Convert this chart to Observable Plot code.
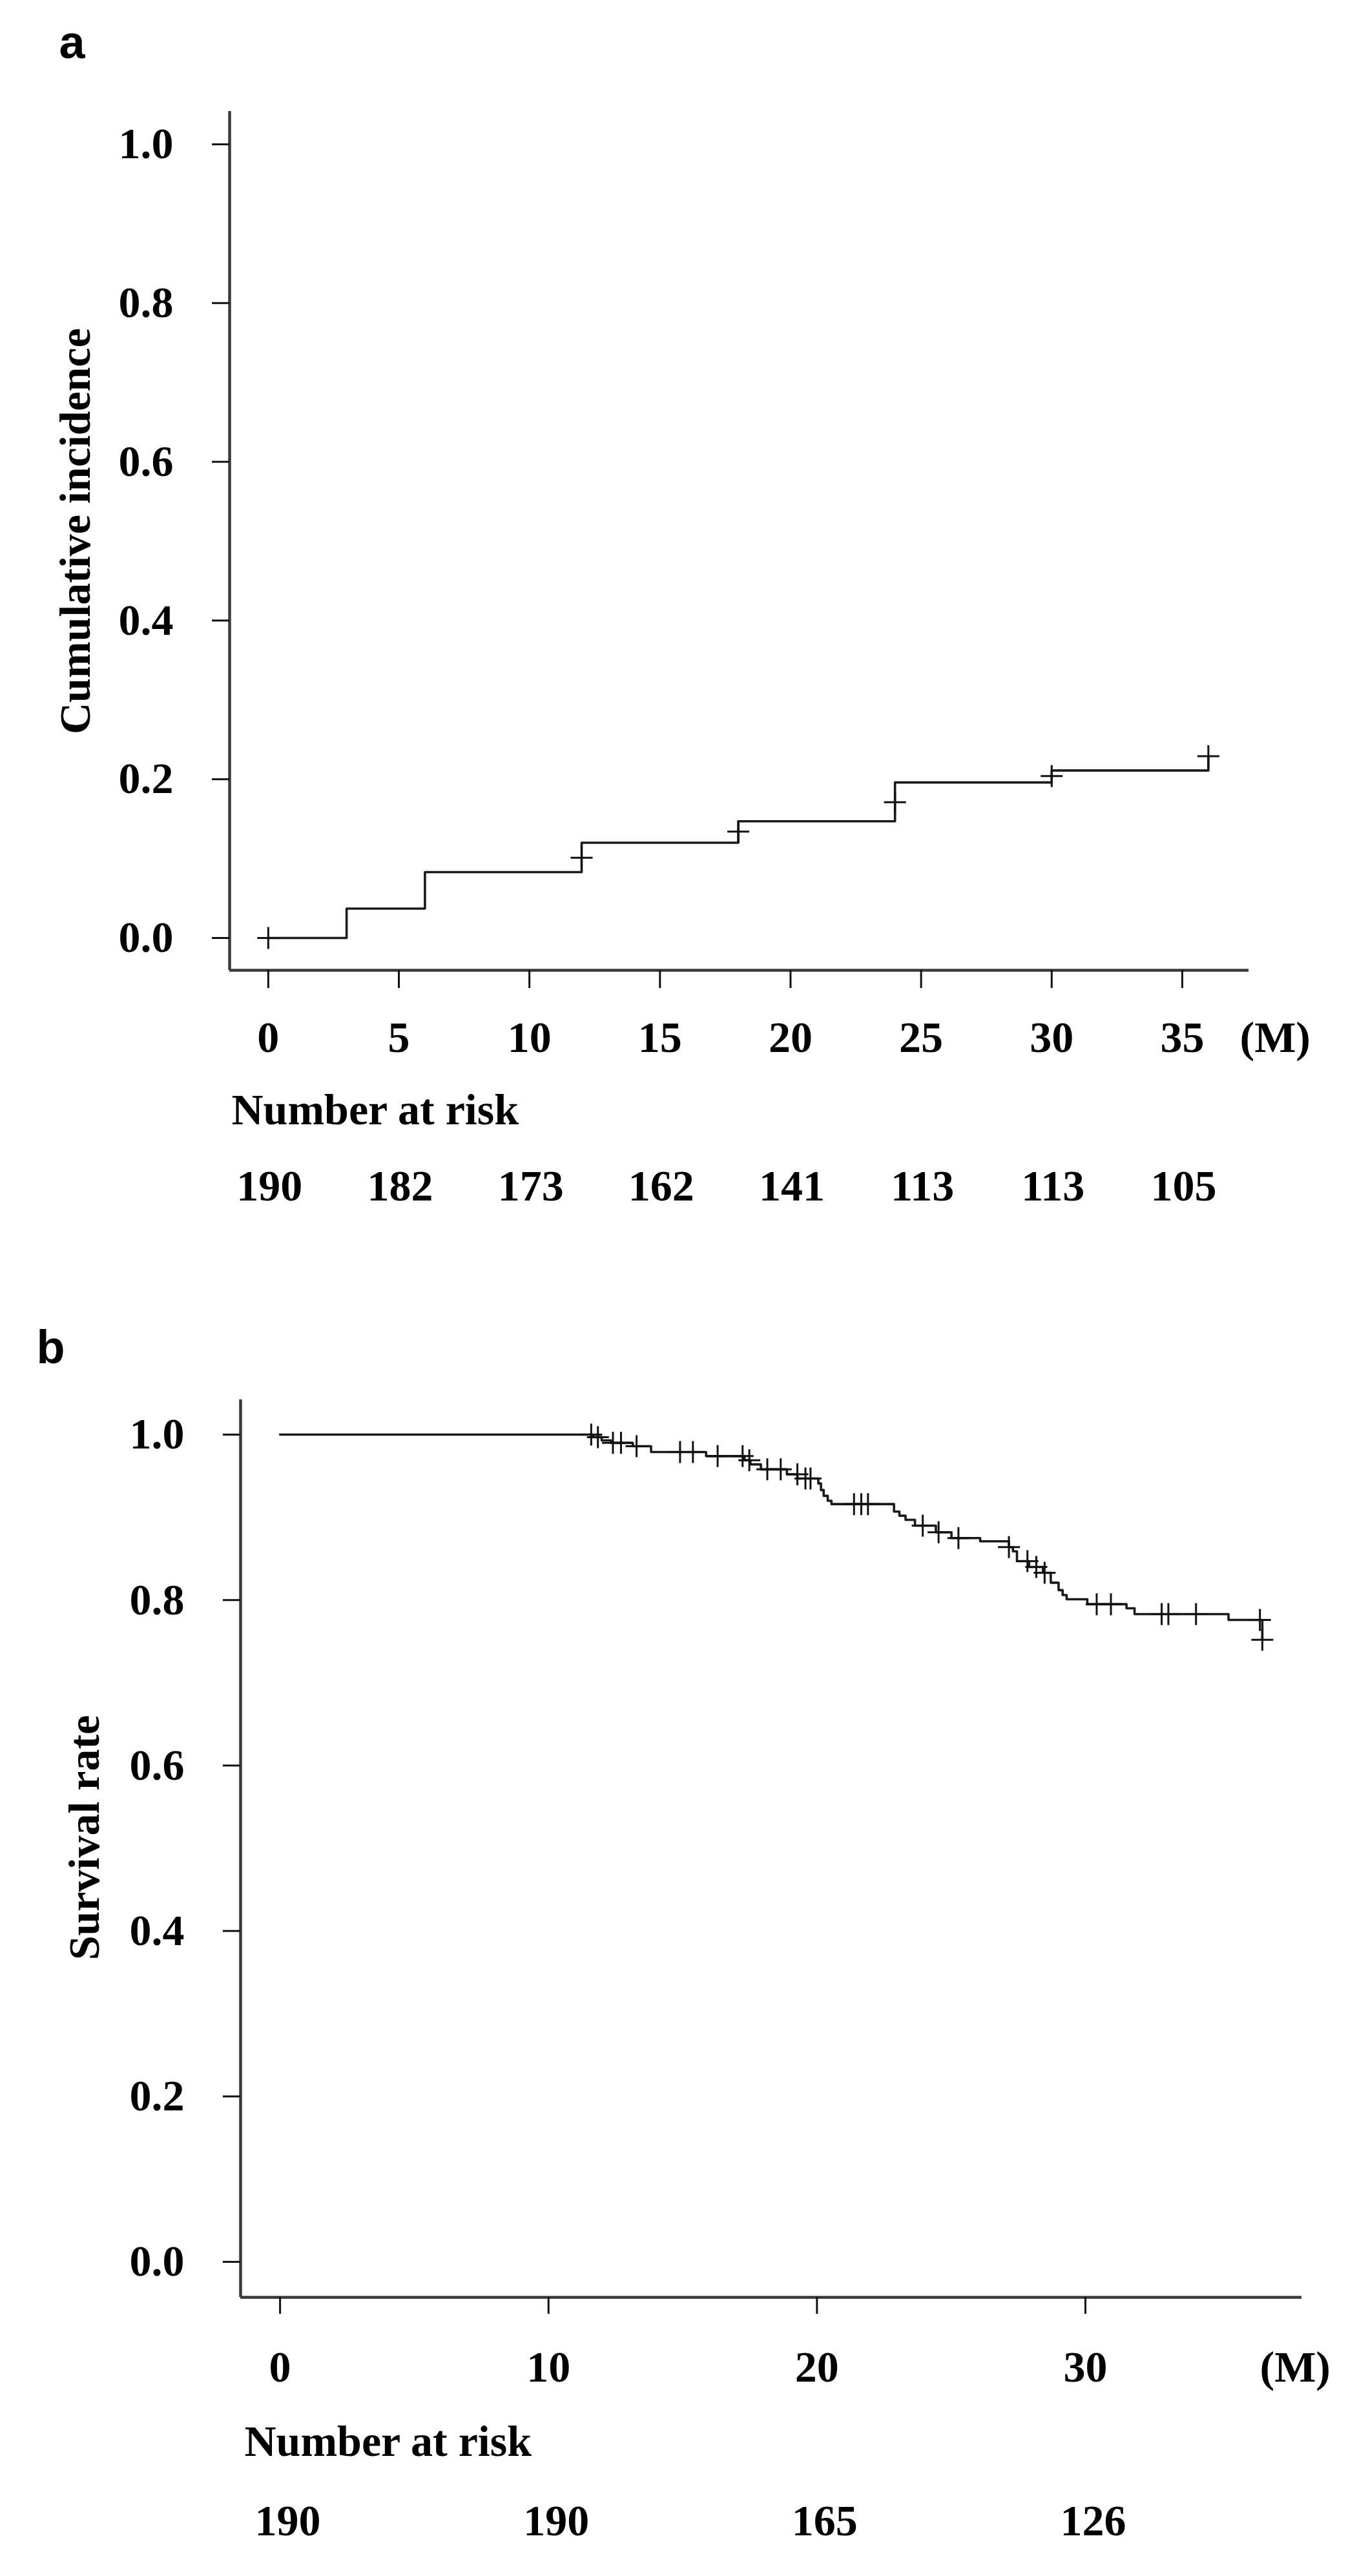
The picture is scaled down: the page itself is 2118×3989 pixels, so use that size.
<!DOCTYPE html>
<html>
<head>
<meta charset="utf-8">
<script src="https://cdn.jsdelivr.net/npm/d3@7"></script>
<script src="https://cdn.jsdelivr.net/npm/@observablehq/plot@0.6"></script>
<style>
  body { margin: 0; background: #fff; }
  #chart svg { display: block; }
</style>
</head>
<body>
<div id="chart"></div>
<script>
// ---------- Panel a: cumulative incidence ----------
const monthsA = [0, 3, 6, 12, 18, 24, 30, 36];
const incidenceA = [0, 0.037, 0.083, 0.120, 0.147, 0.196, 0.211, 0.229];
const censorMonthsA = [0, 12, 18, 24, 30, 36];
const censorIncidenceA = [0, 0.101, 0.134, 0.171, 0.204, 0.229];
const xTicksA = [0, 5, 10, 15, 20, 25, 30, 35];
const riskA = [190, 182, 173, 162, 141, 113, 113, 105];

// ---------- Panel b: survival rate ----------
const monthsB = [0, 11.65, 11.98, 12.33, 13.14, 13.82, 15.87, 17.30, 17.52, 17.91,
  18.88, 19.27, 20.05, 20.15, 20.25, 20.40, 20.54, 22.87, 23.07, 23.30,
  23.65, 24.43, 25.01, 26.08, 27.15, 27.30, 27.45, 27.90, 28.42, 28.71,
  29.00, 29.15, 29.30, 30.07, 31.53, 31.83, 35.33, 36.59];
const survivalB = [1.000, 0.997, 0.993, 0.990, 0.986, 0.979, 0.974, 0.969, 0.964, 0.958,
  0.952, 0.947, 0.941, 0.933, 0.926, 0.920, 0.916, 0.907, 0.902, 0.897,
  0.890, 0.882, 0.875, 0.871, 0.864, 0.859, 0.847, 0.840, 0.833, 0.821,
  0.812, 0.806, 0.801, 0.795, 0.790, 0.783, 0.776, 0.752];
const censorMonthsB = [11.59, 11.84, 12.40, 12.70, 13.28, 14.90, 15.38, 16.30, 17.23, 17.48,
  18.15, 18.65, 19.27, 19.57, 19.76, 21.38, 21.65, 21.90, 23.94, 24.53,
  25.27, 27.15, 27.84, 28.17, 28.48, 30.42, 30.95, 32.84, 33.09, 34.12,
  36.50, 36.59];
const censorSurvivalB = [1.000, 0.997, 0.990, 0.990, 0.986, 0.979, 0.979, 0.974, 0.974, 0.969,
  0.958, 0.958, 0.952, 0.947, 0.947, 0.916, 0.916, 0.916, 0.890, 0.882,
  0.875, 0.864, 0.847, 0.840, 0.833, 0.795, 0.795, 0.783, 0.783, 0.783,
  0.776, 0.752];
const xTicksB = [0, 10, 20, 30];
const riskB = [190, 190, 165, 126];

const yTicks = [0, 0.2, 0.4, 0.6, 0.8, 1.0];

// "+" censor symbol drawn with strokes; half-length equals r
const plusSymbol = {
  draw(ctx, size) {
    const r = Math.sqrt(size / Math.PI);
    ctx.moveTo(-r, 0); ctx.lineTo(r, 0);
    ctx.moveTo(0, -r); ctx.lineTo(0, r);
  }
};

const serif = "'Liberation Serif', 'Times New Roman', Times, serif";
const sans = "'Liberation Sans', Arial, Helvetica, sans-serif";

function panel(cfg) {
  const curve = cfg.months.map((t, i) => ({t, v: cfg.values[i]}));
  const marks = cfg.censorMonths.map((t, i) => ({t, v: cfg.censorValues[i]}));
  const risk = cfg.xTicks.map((t, i) => ({t, n: cfg.risk[i]}));
  return Plot.plot({
    width: 2118,
    height: cfg.height,
    marginLeft: cfg.ml, marginRight: cfg.mr, marginTop: cfg.mt, marginBottom: cfg.mb,
    style: {fontFamily: serif, fontSize: "68px", fontWeight: "bold", background: "#fff", color: "#000", overflow: "visible"},
    x: {domain: cfg.xDomain},
    y: {domain: cfg.yDomain},
    marks: [
      Plot.ruleX([cfg.xDomain[0]], {stroke: "#3a3a3a", strokeWidth: 4.5}),
      Plot.ruleY([cfg.yDomain[0]], {stroke: "#3a3a3a", strokeWidth: 4.5}),
      Plot.axisX({ticks: cfg.xTicks, tickSize: cfg.xTickSize, tickPadding: cfg.xTickPad, tickFormat: d => String(d), label: null, strokeWidth: 3, stroke: "#111"}),
      Plot.axisY({ticks: yTicks, tickSize: 27, tickPadding: 60, tickFormat: d3.format(".1f"), label: null, strokeWidth: 3, stroke: "#111"}),
      Plot.line(curve, {x: "t", y: "v", curve: "step-after", stroke: "#1a1a1a", strokeWidth: 3.6}),
      Plot.dot(marks, {x: "t", y: "v", r: 17, symbol: plusSymbol, fill: "none", stroke: "#111", strokeWidth: 3}),
      Plot.text([cfg.yLabel], {text: d => d, frameAnchor: "left", rotate: -90, textAnchor: "middle", lineAnchor: "middle", dx: cfg.yLabelDx, dy: cfg.yLabelDy}),
      Plot.text(["(M)"], {text: d => d, frameAnchor: "bottom-right", textAnchor: "start", lineAnchor: "top", dx: cfg.mDx, dy: cfg.mDy}),
      Plot.text(["Number at risk"], {text: d => d, frameAnchor: "bottom-left", textAnchor: "start", lineAnchor: "top", dx: cfg.nDx, dy: cfg.nDy}),
      Plot.text(risk, {x: "t", text: "n", frameAnchor: "bottom", textAnchor: "middle", lineAnchor: "top", dx: cfg.rDx, dy: cfg.rDy}),
      Plot.text([cfg.tag], {text: d => d, frameAnchor: "top-left", textAnchor: "start", lineAnchor: "top", dx: cfg.tagDx, dy: cfg.tagDy, fontFamily: sans, fontSize: 72, fontWeight: "bold"})
    ]
  });
}

const chart = document.getElementById("chart");

chart.append(panel({
  height: 1995, ml: 355, mr: 185, mt: 172, mb: 493,
  xDomain: [-1.48, 37.55], yDomain: [-0.0407, 1.0415],
  months: monthsA, values: incidenceA,
  censorMonths: censorMonthsA, censorValues: censorIncidenceA,
  xTicks: xTicksA, risk: riskA,
  xTickSize: 28, xTickPad: 50,
  yLabel: "Cumulative incidence", yLabelDx: -238, yLabelDy: -15,
  mDx: -14, mDy: 78,
  nDx: 3, nDy: 190,
  rDx: 2, rDy: 308,
  tag: "a", tagDx: -264, tagDy: -134
}));

chart.append(panel({
  height: 1994, ml: 372, mr: 103, mt: 172, mb: 432,
  xDomain: [-1.47, 38.06], yDomain: [-0.0429, 1.0422],
  months: monthsB, values: survivalB,
  censorMonths: censorMonthsB, censorValues: censorSurvivalB,
  xTicks: xTicksB, risk: riskB,
  xTickSize: 26, xTickPad: 56,
  yLabel: "Survival rate", yLabelDx: -241, yLabelDy: -17,
  mDx: -65, mDy: 82,
  nDx: 6, nDy: 197,
  rDx: 12, rDy: 320,
  tag: "b", tagDx: -316, tagDy: -108
}));
</script>
</body>
</html>
